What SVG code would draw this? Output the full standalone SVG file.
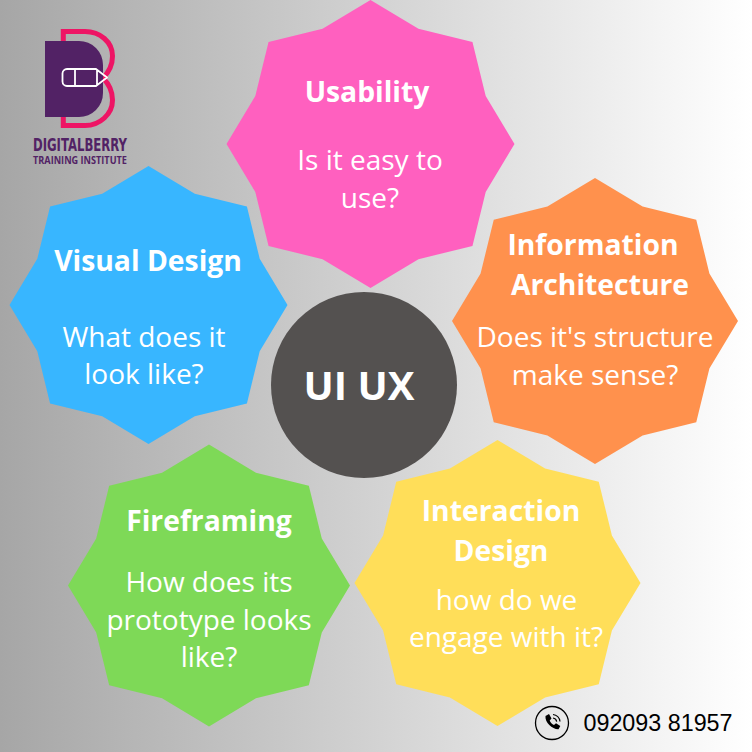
<svg xmlns="http://www.w3.org/2000/svg" xmlns:xlink="http://www.w3.org/1999/xlink" width="752" height="752" viewBox="0 0 752 752">
<defs>
<linearGradient id="bg" x1="0" y1="0" x2="1" y2="0"><stop offset="0" stop-color="#a6a6a6"/><stop offset="1" stop-color="#ffffff"/></linearGradient>
<polygon id="star" points="0,-1 .333,-.8 .708,-.708 .8,-.333 1,0 .8,.333 .708,.708 .333,.8 0,1 -.333,.8 -.708,.708 -.8,.333 -1,0 -.8,-.333 -.708,-.708 -.333,-.8"/>
</defs>
<style>
text{font-family:"Open Sans","Liberation Sans",sans-serif;fill:#fff;text-anchor:middle}
.h{font-size:28.300px;font-weight:700}
.b{font-size:28px;font-weight:400}
</style>
<rect width="752" height="752" fill="url(#bg)"/>
<g id="connectors"></g>
<g id="logo">
<path d="M63.300 41V31.500H85C100 31.500 112.500 42 112.500 56C112.500 66 108 73 103 78C108 83 112.500 90 112.500 100C112.500 114 100 125.500 85 125.500H63.300V117" fill="none" stroke="#ee1565" stroke-width="5"/>
<path d="M45 41H79A24 24 0 0 1 103 65V93A24 24 0 0 1 79 117H45Z" fill="#522265"/>
<path d="M67 69H96L107 77.500L96 86H67A4.500 4.500 0 0 1 62.500 81.500V73.500A4.500 4.500 0 0 1 67 69ZM75 69V86M97 70V85" fill="none" stroke="#fff" stroke-width="1.800" stroke-linejoin="round"/>
<text x="80" y="150.500" style="font-family:'DejaVu Sans Condensed','Liberation Sans',sans-serif;font-size:17px;font-weight:700;fill:#522265" textLength="94" lengthAdjust="spacingAndGlyphs">DIGITALBERRY</text>
<text x="80" y="163.500" style="font-size:10px;font-weight:700;fill:#522265" textLength="94" lengthAdjust="spacingAndGlyphs">TRAINING INSTITUTE</text>
</g>
<g id="usability">
<use xlink:href="#star" href="#star" transform="translate(370.500 144) scale(144)" fill="#ff60bf"/>
<text class="h" x="367" y="102">Usability</text>
<text class="b" x="370" y="170">Is it easy to</text>
<text class="b" x="370" y="208">use?</text>
</g>
<g id="visual-design">
<use xlink:href="#star" href="#star" transform="translate(148.500 305) scale(139)" fill="#38b6ff"/>
<text class="h" x="148" y="271">Visual Design</text>
<text class="b" x="144" y="347">What does it</text>
<text class="b" x="144" y="384">look like?</text>
</g>
<g id="information-architecture">
<use xlink:href="#star" href="#star" transform="translate(595 321) scale(143)" fill="#ff914d"/>
<text class="h" x="593" y="255">Information</text>
<text class="h" x="600" y="294.500">Architecture</text>
<text class="b" x="595" y="347">Does it's structure</text>
<text class="b" x="595" y="385">make sense?</text>
</g>
<g id="interaction-design">
<use xlink:href="#star" href="#star" transform="translate(497.500 583) scale(143)" fill="#ffde59"/>
<text class="h" x="501" y="521">Interaction</text>
<text class="h" x="501" y="561">Design</text>
<text class="b" x="506.500" y="610">how do we</text>
<text class="b" x="506" y="647">engage with it?</text>
</g>
<g id="fireframing">
<use xlink:href="#star" href="#star" transform="translate(209 585.500) scale(141)" fill="#7ed957"/>
<text class="h" x="209" y="531">Fireframing</text>
<text class="b" x="209" y="592">How does its</text>
<text class="b" x="209" y="630">prototype looks</text>
<text class="b" x="209" y="667">like?</text>
</g>
<g id="center">
<circle cx="364" cy="385" r="93" fill="#545150"/>
<text x="359" y="400" style="font-size:40px;font-weight:700">UI UX</text>
</g>
<g id="phone">
<circle cx="552" cy="723" r="16.500" fill="none" stroke="#000" stroke-width="1.300"/>
<path d="M545.500 716l3.500-2 2.500 4.500-1.800 2c.8 2 2.300 3.500 4.300 4.500l2-1.800 4.300 2.800-1.800 3.300c-5.500 .5-14-7-13-13.300z" fill="#000"/>
<path d="M553 714.500a8 8 0 0 1 7 7M553 718a4.500 4.500 0 0 1 3.700 3.700" fill="none" stroke="#000" stroke-width="1.200"/>
<text x="658" y="731" style="font-family:'Liberation Sans',sans-serif;font-size:23.300px;fill:#000">092093 81957</text>
</g>
</svg>
